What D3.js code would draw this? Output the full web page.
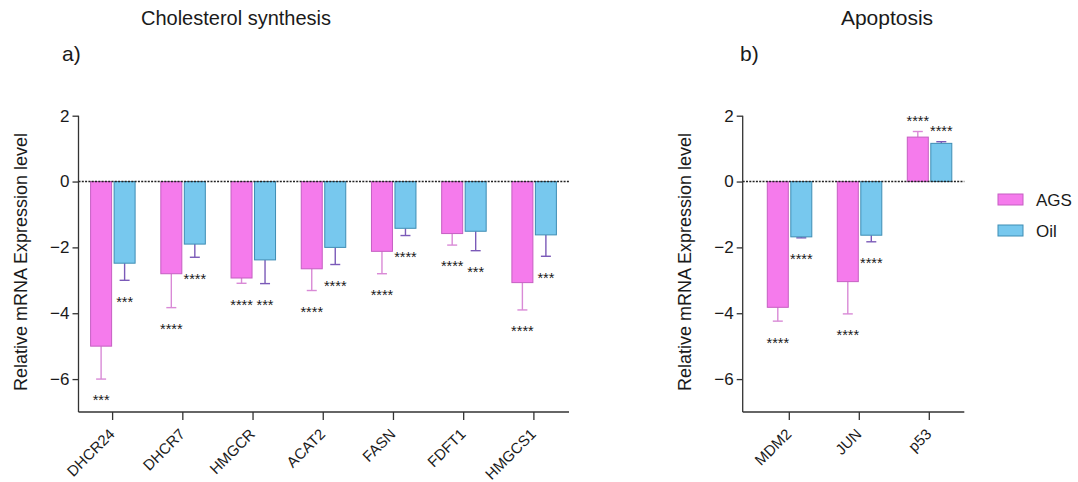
<!DOCTYPE html>
<html>
<head>
<meta charset="utf-8">
<script src="https://cdn.jsdelivr.net/npm/d3@7/dist/d3.min.js"></script>
<style>
  html, body { margin: 0; padding: 0; background: #fff; }
  svg { display: block; }
  text { font-family: "Liberation Sans", Arial, Helvetica, sans-serif; fill: #1a1a1a; }
</style>
</head>
<body>
<svg id="chart" width="1078" height="482"></svg>
<script>
// Relative mRNA expression (log fold change), mean and error-bar end
const series = ["AGS", "Oil"];

const cholGenes = ["DHCR24", "DHCR7", "HMGCR", "ACAT2", "FASN", "FDFT1", "HMGCS1"];
const cholAGS    = [-5.00, -2.80, -2.93, -2.65, -2.12, -1.58, -3.07];
const cholAGSErr = [-6.00, -3.83, -3.09, -3.31, -2.80, -1.93, -3.90];
const cholOil    = [-2.48, -1.90, -2.38, -2.00, -1.42, -1.51, -1.62];
const cholOilErr = [-3.00, -2.30, -3.10, -2.52, -1.64, -2.10, -2.27];
const cholAGSSig = ["***", "****", "****", "****", "****", "****", "****"];
const cholOilSig = ["***", "****", "***", "****", "****", "***", "***"];

const apoGenes = ["MDM2", "JUN", "p53"];
const apoAGS    = [-3.82, -3.04, 1.35];
const apoAGSErr = [-4.24, -4.02, 1.52];
const apoOil    = [-1.68, -1.63, 1.16];
const apoOilErr = [-1.71, -1.83, 1.21];
const apoAGSSig = ["****", "****", "****"];
const apoOilSig = ["****", "****", "****"];

const yTicks = [2, 0, -2, -4, -6];
const yDomain = [-7, 2];

const colors = {
  AGS: { fill: "#f57bec", stroke: "#c55fc2", err: "#d98ad6" },
  Oil: { fill: "#77c8ee", stroke: "#3f8db4", err: "#7b5ab8" }
};

const svg = d3.select("#chart");

function panel(opts) {
  const { genes, ags, agsErr, oil, oilErr, agsSig, oilSig,
          axisX, bandStart, bandEnd, title, titleX, titleSize, letter, letterX, labelX } = opts;

  const y = d3.scaleLinear().domain(yDomain).range([412, 115.7]);
  const x = d3.scaleBand().domain(genes).range([bandStart, bandEnd]);
  const g = svg.append("g");

  const rows = genes.map((gene, i) => [
    { gene, key: "AGS", v: ags[i], e: agsErr[i], sig: agsSig[i], dx: -22 },
    { gene, key: "Oil", v: oil[i], e: oilErr[i], sig: oilSig[i], dx: 1.5 }
  ]).flat();
  const barW = 21;
  const cx = d => x(d.gene) + x.bandwidth() / 2 + d.dx + barW / 2;

  // error bars (drawn first so the bar outline sits on top)
  const eb = g.append("g").selectAll("g").data(rows).join("g")
    .attr("stroke", d => colors[d.key].err).attr("stroke-width", 1.4).attr("fill", "none");
  eb.append("line")
    .attr("x1", cx).attr("x2", cx)
    .attr("y1", d => y(d.v)).attr("y2", d => y(d.e));
  eb.append("line")
    .attr("x1", d => cx(d) - 5).attr("x2", d => cx(d) + 5)
    .attr("y1", d => y(d.e)).attr("y2", d => y(d.e));

  // bars
  g.append("g").selectAll("rect").data(rows).join("rect")
    .attr("x", d => x(d.gene) + x.bandwidth() / 2 + d.dx)
    .attr("width", barW)
    .attr("y", d => y(Math.max(0, d.v)))
    .attr("height", d => Math.abs(y(d.v) - y(0)))
    .attr("fill", d => colors[d.key].fill)
    .attr("stroke", d => colors[d.key].stroke)
    .attr("stroke-width", 1);

  // significance stars
  g.append("g").selectAll("text").data(rows).join("text")
    .attr("x", cx)
    .attr("y", d => d.v < 0 ? y(d.e) + 18 + 8.4 : y(d.e) - 14 + 8.4)
    .attr("text-anchor", "middle")
    .attr("font-size", 14.5)
    .attr("fill", "#222")
    .text(d => d.sig);

  // zero reference line
  g.append("line")
    .attr("x1", axisX).attr("x2", bandEnd)
    .attr("y1", y(0)).attr("y2", y(0))
    .attr("stroke", "#222").attr("stroke-width", 1.6)
    .attr("stroke-dasharray", "2,1.3");

  // y axis
  const yAxis = g.append("g").attr("transform", `translate(${axisX},0)`)
    .call(d3.axisLeft(y).tickValues(yTicks).tickSize(6).tickSizeOuter(0).tickPadding(3).tickFormat(d3.format("d")));
  yAxis.select(".domain").remove();
  yAxis.append("line").attr("x1", 0).attr("x2", 0).attr("y1", y(2)).attr("y2", y(-7))
    .attr("stroke", "#333").attr("stroke-width", 1.3);
  yAxis.selectAll(".tick line").attr("stroke", "#333").attr("stroke-width", 1.3);
  yAxis.selectAll(".tick text").attr("font-size", 17)
    .attr("font-family", "Liberation Sans, Arial, sans-serif").attr("fill", "#1a1a1a");

  // x axis
  const xAxis = g.append("g").attr("transform", `translate(0,${y(-7)})`)
    .call(d3.axisBottom(x).tickSize(8).tickSizeOuter(0));
  xAxis.select(".domain").remove();
  xAxis.append("line").attr("x1", axisX).attr("x2", bandEnd).attr("y1", 0).attr("y2", 0)
    .attr("stroke", "#333").attr("stroke-width", 1.3);
  xAxis.selectAll(".tick line").attr("stroke", "#333").attr("stroke-width", 1.3);
  xAxis.selectAll(".tick text")
    .attr("font-size", 15)
    .attr("font-family", "Liberation Sans, Arial, sans-serif").attr("fill", "#1a1a1a")
    .attr("text-anchor", "end")
    .attr("x", 0).attr("y", 0).attr("dy", "0")
    .attr("transform", "translate(3,23) rotate(-45)");

  // axis title
  svg.append("text")
    .attr("transform", `translate(${labelX},262) rotate(-90)`)
    .attr("text-anchor", "middle")
    .attr("font-size", 18)
    .text("Relative mRNA Expression level");

  svg.append("text").attr("x", titleX).attr("y", 25).attr("text-anchor", "middle")
    .attr("font-size", titleSize).text(title);
  svg.append("text").attr("x", letterX).attr("y", 61)
    .attr("font-size", 21).text(letter);
}

panel({
  genes: cholGenes, ags: cholAGS, agsErr: cholAGSErr, oil: cholOil, oilErr: cholOilErr,
  agsSig: cholAGSSig, oilSig: cholOilSig,
  axisX: 78.5, bandStart: 77.5, bandEnd: 569,
  title: "Cholesterol synthesis", titleX: 236, titleSize: 20,
  letter: "a)", letterX: 62, labelX: 27
});

panel({
  genes: apoGenes, ags: apoAGS, agsErr: apoAGSErr, oil: apoOil, oilErr: apoOilErr,
  agsSig: apoAGSSig, oilSig: apoOilSig,
  axisX: 742.7, bandStart: 754.3, bandEnd: 964.3,
  title: "Apoptosis", titleX: 887, titleSize: 21,
  letter: "b)", letterX: 740, labelX: 691
});

// legend
const legend = svg.append("g").attr("transform", "translate(998,194)");
const li = legend.selectAll("g").data(series).join("g")
  .attr("transform", (d, i) => `translate(0,${i * 31})`);
li.append("rect").attr("width", 25).attr("height", 11)
  .attr("fill", d => colors[d].fill).attr("stroke", d => colors[d].stroke).attr("stroke-width", 1);
li.append("text").attr("x", 38).attr("y", 11.5).attr("font-size", 17).text(d => d);
</script>
</body>
</html>
